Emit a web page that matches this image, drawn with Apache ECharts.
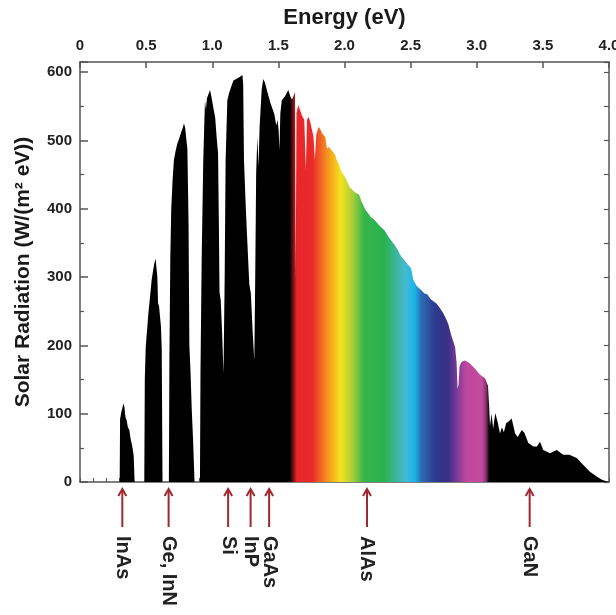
<!DOCTYPE html>
<html>
<head>
<meta charset="utf-8">
<script src="https://cdn.jsdelivr.net/npm/echarts@6/dist/echarts.min.js"></script>
<style>
html,body{margin:0;padding:0;background:#fff;}
#c{width:616px;height:615px;}
</style>
</head>
<body>
<div id="c"></div>
<script>
// ---- data ----
const energy = [
0,0.300,0.303,0.312,0.320,0.328,0.336,0.343,0.353,0.362,0.373,0.382,0.391,0.400,0.406,0.413,
0.486,0.490,0.497,0.507,0.517,0.530,0.542,0.552,0.562,0.572,0.579,0.585,0.590,0.598,0.605,0.612,0.618,0.624,
0.672,0.676,0.683,0.690,0.700,0.710,0.722,0.735,0.750,0.765,0.776,0.786,0.795,0.805,0.812,0.816,0.821,0.827,0.835,0.845,0.855,0.866,
0.907,0.911,0.920,0.932,0.945,0.952,0.960,0.972,0.983,0.992,1.002,1.012,1.022,1.034,1.044,1.050,1.055,1.064,1.074,1.085,
1.094,1.101,1.114,1.128,1.142,1.160,1.182,1.207,1.228,1.234,1.240,1.254,1.266,1.280,1.292,1.305,1.318,
1.325,1.332,1.341,1.350,1.358,1.374,1.386,1.398,1.420,1.440,1.458,1.470,1.484,1.494,1.502,1.508,1.515,1.526,1.550,1.575,1.590,
1.603,1.616,1.626,1.631,1.637,1.650,1.665,1.680,1.696,1.708,1.716,1.728,1.741,1.754,1.766,1.776,1.786,1.804,1.818,1.832,1.855,
1.868,1.882,1.906,1.918,1.931,1.944,1.957,1.970,1.983,2.000,2.020,2.040,2.058,2.080,2.095,2.110,2.130,2.160,2.180,2.198,2.220,
2.249,2.270,2.300,2.330,2.351,2.375,2.402,2.430,2.452,2.480,2.503,2.520,2.546,2.575,2.605,2.625,2.650,2.697,2.720,2.747,2.770,
2.785,2.810,2.836,2.848,2.855,2.862,2.870,2.886,2.911,2.930,2.950,2.987,3.025,3.062,3.085,3.094,3.100,3.112,3.124,3.140,3.158,
3.176,3.190,3.205,3.222,3.242,3.264,3.290,3.310,3.340,3.360,3.390,3.428,3.455,3.478,3.503,3.554,3.604,3.654,3.700,3.756,3.806,
3.856,3.907,3.950,4.000
];
const radiation = [
0,0,92,102,108,115,110,96,90,80,76,64,56,47,38,0,
0,150,198,222,247,272,296,309,320,327,312,300,262,257,255,228,196,0,
0,180,330,400,442,471,484,495,503,512,518,525,519,500,488,440,374,200,165,106,62,0,
0,160,325,471,559,545,562,568,574,566,555,544,534,503,481,380,278,266,222,159,
300,471,559,570,578,588,590,593,596,582,471,400,349,290,276,222,178,
300,452,505,462,520,575,590,585,569,555,545,538,522,530,515,486,540,559,565,574,565,
560,566,571,300,540,552,544,536,530,457,530,535,527,525,505,472,508,520,516,510,505,
488,491,485,482,478,470,466,458,452,448,440,432,428,424,425,421,410,398,393,388,385,
379,374,369,360,354,348,340,330,325,318,313,296,287,282,276,275,268,261,255,247,238,
231,213,198,174,136,142,170,176,178,176,173,166,157,152,141,110,82,100,78,101,88,
71,80,73,86,89,93,71,66,76,72,57,52,52,59,47,42,47,40,40,35,25,
15,8,3,0
];
const gapNames  = ['InAs', 'Ge, InN', 'Si', 'InP', 'GaAs', 'AlAs', 'GaN'];
const gapEnergy = [0.32, 0.67, 1.12, 1.29, 1.43, 2.17, 3.40];

// visible-band colouring (style)
const bandStopEnergy = [0, 1.585, 1.64, 1.76, 1.80, 1.87, 1.97, 2.06, 2.15, 2.30, 2.38, 2.46, 2.53, 2.58, 2.68, 2.78, 2.85, 2.92, 3.04, 3.07, 3.095, 4.0];
const bandStopColor  = ['#000000','#000000','#e8262b','#ea2a2a','#ef5127','#f6921e','#f5e21e','#a9cf3a','#33b54a','#2bb14f','#37b690','#47b9d4','#18b6ea','#2b6eb5','#2d3b8e','#362f86','#7b3a98','#bf489f','#c24a9f','#8c2f74','#000000','#000000'];

const spectrum = energy.map((e, i) => [e, radiation[i]]);
const font = '"Liberation Sans", Arial, Helvetica, sans-serif';
const axisColor = '#555';
const arrowColor = '#a02830';

const chart = echarts.init(document.getElementById('c'), null, {renderer: 'canvas'});

const gradient = {
  type: 'linear', x: 0, y: 0, x2: 1, y2: 0,
  colorStops: bandStopEnergy.map((e, i) => ({offset: e / 4, color: bandStopColor[i]}))
};

const option = {
  animation: false,
  backgroundColor: '#ffffff',
  grid: {left: 80, right: 7, top: 62, bottom: 133, containLabel: false, outerBoundsMode: 'none'},
  xAxis: [
    {
      type: 'value', position: 'top', min: 0, max: 4, interval: 0.5,
      name: 'Energy (eV)', nameLocation: 'middle', nameGap: 33,
      nameTextStyle: {fontFamily: font, fontWeight: 'bold', fontSize: 22, color: '#1a1a1a'},
      axisLine: {show: true, onZero: false, lineStyle: {color: axisColor, width: 1.5}},
      axisTick: {show: true, inside: true, length: 6, lineStyle: {color: axisColor, width: 1.5}},
      axisLabel: {margin: 9, fontFamily: font, fontWeight: 'bold', fontSize: 15, color: '#222',
        formatter: v => (v === 0 ? '0' : v.toFixed(1))},
      splitLine: {show: false}
    },
    {
      type: 'value', position: 'bottom', min: 0, max: 4, interval: 0.1,
      axisLine: {show: true, onZero: false, lineStyle: {color: axisColor, width: 1.5}},
      axisTick: {show: true, inside: true, length: 4, lineStyle: {color: axisColor, width: 1}},
      axisLabel: {show: false},
      splitLine: {show: false}
    }
  ],
  yAxis: [
    {
      type: 'value', position: 'left', min: 0, max: 615, interval: 100,
      name: 'Solar Radiation (W/(m² eV))', nameLocation: 'middle', nameGap: 46,
      nameTextStyle: {fontFamily: font, fontWeight: 'bold', fontSize: 21, color: '#1a1a1a'},
      axisLine: {show: true, onZero: false, lineStyle: {color: axisColor, width: 1.5}},
      axisTick: {show: true, inside: true, length: 8, lineStyle: {color: axisColor, width: 1.5}},
      minorTick: {show: true, splitNumber: 2, length: 4, lineStyle: {color: axisColor, width: 1.2}},
      axisLabel: {margin: 8, fontFamily: font, fontWeight: 'bold', fontSize: 15, color: '#222', showMaxLabel: false},
      splitLine: {show: false}, minorSplitLine: {show: false}
    },
    {
      type: 'value', position: 'right', min: 0, max: 615, interval: 100,
      axisLine: {show: true, onZero: false, lineStyle: {color: axisColor, width: 1.5}},
      axisTick: {show: true, inside: true, length: 5, lineStyle: {color: axisColor, width: 1.2}},
      minorTick: {show: true, splitNumber: 2, length: 5, lineStyle: {color: axisColor, width: 1.2}},
      axisLabel: {show: false},
      splitLine: {show: false}, minorSplitLine: {show: false}
    }
  ],
  series: [
    {
      type: 'line', xAxisIndex: 0, yAxisIndex: 0, data: spectrum,
      symbol: 'none', showSymbol: false, smooth: false,
      lineStyle: {width: 0},
      areaStyle: {color: gradient, opacity: 1},
      z: 2, silent: true
    },
    {
      type: 'custom', xAxisIndex: 0, yAxisIndex: 0, clip: false, silent: true, z: 5,
      data: gapEnergy.map((e, i) => [e, 0, i]),
      renderItem: function (params, api) {
        const p = api.coord([api.value(0), 0]);
        const x = p[0], y = p[1];
        const tip = y + 7, tail = y + 45;
        return {
          type: 'group',
          children: [
            {type: 'line', shape: {x1: x, y1: tip + 1, x2: x, y2: tail},
             style: {stroke: arrowColor, lineWidth: 2}},
            {type: 'polyline', shape: {points: [[x - 4, tip + 7], [x, tip], [x + 4, tip + 7]]},
             style: {stroke: arrowColor, lineWidth: 2, fill: null}},
            {type: 'text', x: x, y: y + 54, rotation: -Math.PI / 2,
             style: {text: gapNames[api.value(2)], fontFamily: font, fontWeight: 'bold', fontSize: 20,
                     fill: '#222', align: 'left', verticalAlign: 'middle'}}
          ]
        };
      }
    }
  ]
};
chart.setOption(option);
</script>
</body>
</html>
